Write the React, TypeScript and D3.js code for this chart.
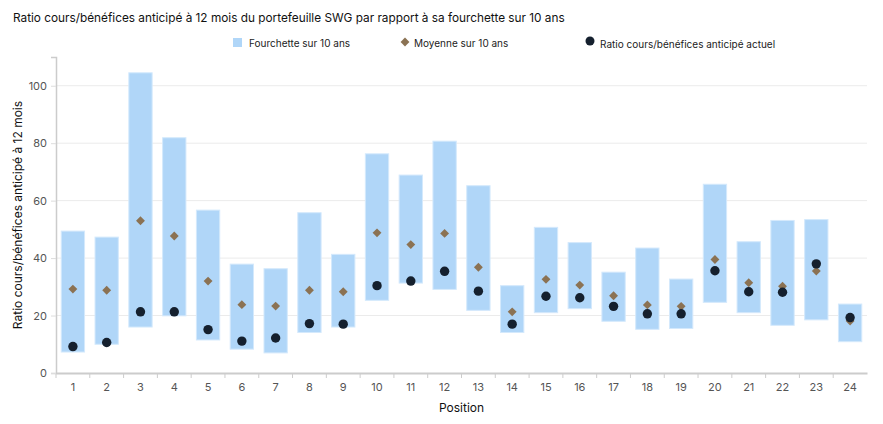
import React, { useEffect, useRef } from "react";
import * as d3 from "d3";

const positions = d3.range(1, 25).map(String);

// 10-year range (low / high)
const rangeLow = [7.3, 10.0, 16.0, 19.9, 11.5, 8.3, 7.0, 14.1, 16.0, 25.3, 31.3, 29.1, 21.8, 14.1, 21.0, 22.4, 18.0, 15.2, 15.5, 24.6, 21.0, 16.6, 18.5, 10.9];
const rangeHigh = [49.4, 47.3, 104.5, 81.9, 56.7, 37.9, 36.3, 55.8, 41.3, 76.3, 68.9, 80.7, 65.2, 30.4, 50.7, 45.4, 35.1, 43.5, 32.7, 65.7, 45.7, 53.1, 53.4, 24.0];
// 10-year average
const average = [29.2, 28.8, 53.0, 47.7, 32.0, 23.8, 23.3, 28.8, 28.3, 48.8, 44.7, 48.6, 36.8, 21.3, 32.6, 30.6, 26.9, 23.7, 23.2, 39.5, 31.4, 30.2, 35.5, 18.1];
// current forward P/E
const current = [9.2, 10.6, 21.3, 21.3, 15.1, 11.1, 12.2, 17.2, 17.0, 30.4, 32.0, 35.4, 28.5, 17.0, 26.7, 26.2, 23.2, 20.6, 20.6, 35.6, 28.3, 28.1, 38.0, 19.3];

const yTicks = [0, 20, 40, 60, 80, 100];

const title = "Ratio cours/bénéfices anticipé à 12 mois du portefeuille SWG par rapport à sa fourchette sur 10 ans";
const legendLabels = ["Fourchette sur 10 ans", "Moyenne sur 10 ans", "Ratio cours/bénéfices anticipé actuel"];

const width = 883;
const height = 424;
const font = "Inter, 'Noto Sans', sans-serif";

const Chart = () => {
    const svgRef = useRef<SVGSVGElement>(null);

    useEffect(() => {
        const margin = { top: 57, right: 16, bottom: 51, left: 56 };
        const innerWidth = width - margin.left - margin.right;
        const innerHeight = height - margin.top - margin.bottom;

        const svg = d3.select(svgRef.current);
        svg.selectAll("*").remove();

        svg.append("text")
            .attr("x", 13)
            .attr("y", 22)
            .attr("font-family", font)
            .attr("font-size", 11.8)
            .attr("fill", "#111")
            .text(title);

        const g = svg.append("g").attr("transform", `translate(${margin.left},${margin.top})`);

        const x = d3.scaleBand().domain(positions).range([0, innerWidth]).paddingInner(0.31).paddingOuter(0.155);
        const y = d3.scaleLinear().domain([0, 110]).range([innerHeight, 0]);

        // gridlines
        g.append("g")
            .selectAll("line")
            .data(yTicks.slice(1))
            .join("line")
            .attr("x1", 0)
            .attr("x2", innerWidth)
            .attr("y1", (d) => y(d))
            .attr("y2", (d) => y(d))
            .attr("stroke", "#ebebeb")
            .attr("stroke-width", 1);

        // y axis
        const yAxis = g.append("g").call(
            d3.axisLeft(y).tickValues(yTicks).tickSize(5).tickPadding(4)
        );
        yAxis.select(".domain").attr("stroke", "#cccccc").attr("stroke-width", 1.5);
        yAxis.selectAll(".tick line").attr("stroke", "#dddddd");
        yAxis.selectAll("text")
            .attr("font-family", font)
            .attr("font-size", 11)
            .attr("fill", "#555");

        // x axis
        const xAxis = g.append("g")
            .attr("transform", `translate(0,${innerHeight})`)
            .call(d3.axisBottom(x).tickSize(0).tickPadding(10));
        xAxis.select(".domain").attr("stroke", "#cccccc").attr("stroke-width", 2);
        xAxis.selectAll("text")
            .attr("font-family", font)
            .attr("font-size", 11)
            .attr("fill", "#555");
        const step = x.step();
        g.append("g")
            .selectAll("line")
            .data(d3.range(0, positions.length))
            .join("line")
            .attr("x1", (i) => i * step)
            .attr("x2", (i) => i * step)
            .attr("y1", innerHeight + 1)
            .attr("y2", innerHeight + 5)
            .attr("stroke", "#cccccc");

        // range bars
        g.append("g")
            .selectAll("rect")
            .data(positions)
            .join("rect")
            .attr("x", (d) => x(d)!)
            .attr("y", (_, i) => y(rangeHigh[i]))
            .attr("width", x.bandwidth())
            .attr("height", (_, i) => y(rangeLow[i]) - y(rangeHigh[i]))
            .attr("fill", "#b0d6f8")
            .attr("stroke", "#d4e9fc")
            .attr("stroke-width", 1);

        // averages
        const diamond = d3.symbol().type(d3.symbolDiamond2).size(50);
        g.append("g")
            .selectAll("path")
            .data(positions)
            .join("path")
            .attr("d", diamond)
            .attr("transform", (d, i) => `translate(${x(d)! + x.bandwidth() / 2},${y(average[i])})`)
            .attr("fill", "#8b7253");

        // current
        g.append("g")
            .selectAll("circle")
            .data(positions)
            .join("circle")
            .attr("cx", (d) => x(d)! + x.bandwidth() / 2)
            .attr("cy", (_, i) => y(current[i]))
            .attr("r", 4.7)
            .attr("fill", "#15202e");

        // axis titles
        svg.append("text")
            .attr("transform", `translate(22,${margin.top + innerHeight / 2}) rotate(-90)`)
            .attr("text-anchor", "middle")
            .attr("font-family", font)
            .attr("font-size", 12)
            .attr("fill", "#111")
            .text("Ratio cours/bénéfices anticipé à 12 mois");

        svg.append("text")
            .attr("x", margin.left + innerWidth / 2)
            .attr("y", 412)
            .attr("text-anchor", "middle")
            .attr("font-family", font)
            .attr("font-size", 12)
            .attr("fill", "#111")
            .text("Position");

        // legend
        const legend = svg.append("g").attr("font-family", font).attr("font-size", 10).attr("fill", "#222");
        legend.append("rect").attr("x", 233).attr("y", 38).attr("width", 9).attr("height", 9).attr("fill", "#b0d6f8");
        legend.append("text").attr("x", 249).attr("y", 47).text(legendLabels[0]);
        legend.append("path")
            .attr("d", d3.symbol().type(d3.symbolDiamond2).size(50)())
            .attr("transform", "translate(405,42)")
            .attr("fill", "#8b7253");
        legend.append("text").attr("x", 414).attr("y", 47).text(legendLabels[1]);
        legend.append("circle").attr("cx", 590).attr("cy", 41).attr("r", 4.5).attr("fill", "#15202e");
        legend.append("text").attr("x", 600).attr("y", 48).text(legendLabels[2]);
    }, []);

    return <svg ref={svgRef} width={width} height={height} style={{ display: "block" }} />;
};

export default function App() {
    return (
        <div style={{ margin: -8 }}>
            <Chart />
        </div>
    );
}
